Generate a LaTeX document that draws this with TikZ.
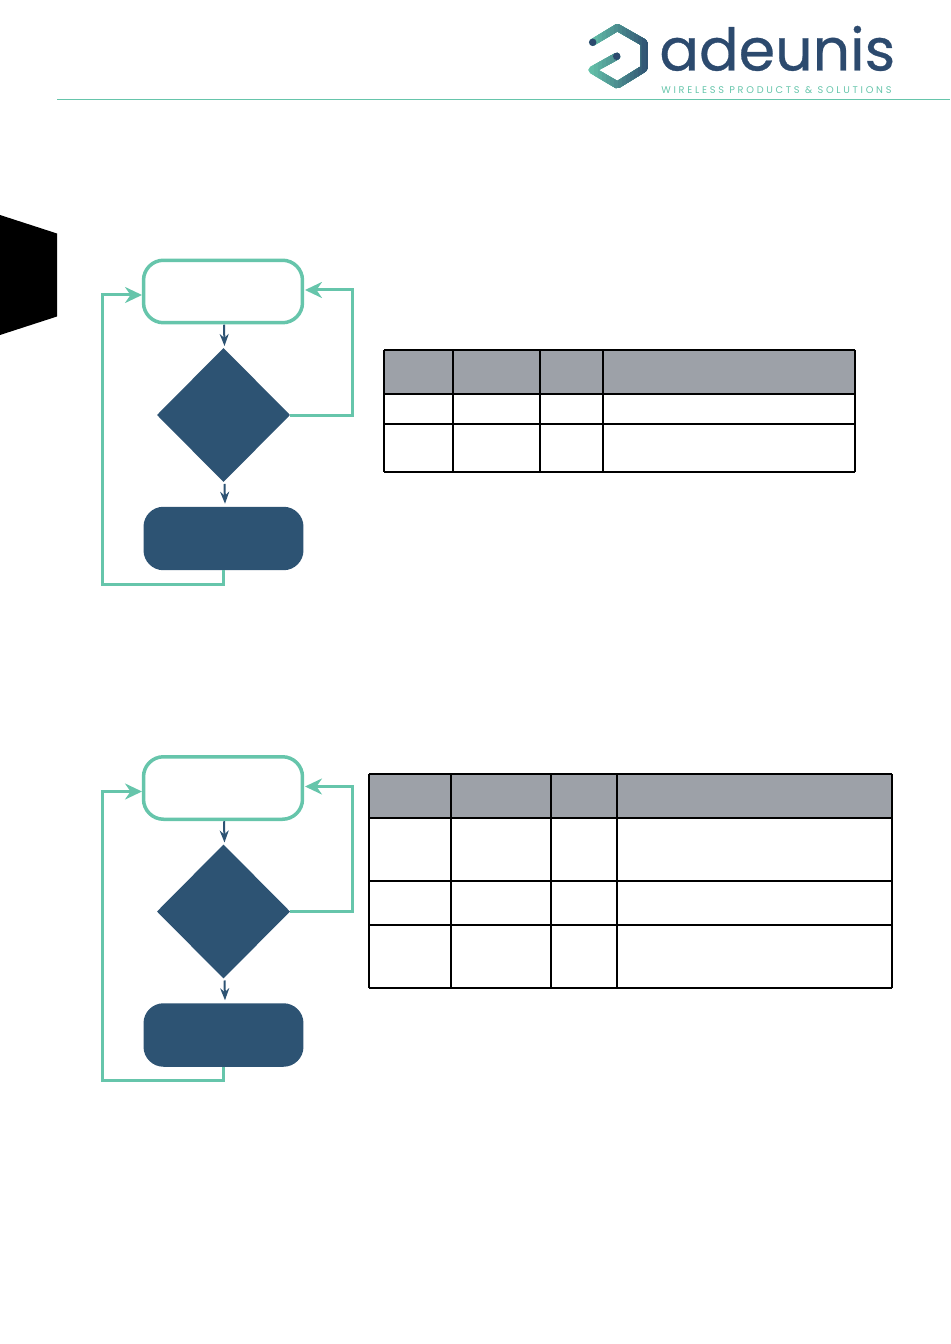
\documentclass[tikz,border=0pt]{standalone}
\usepackage{fontspec}
\usepackage{xcolor}
\usepackage{tikz}
\usetikzlibrary{arrows.meta,shapes.geometric}
\newfontfamily\logofont[FakeBold=0.5]{Poppins}
\newfontfamily\taglinefont[LetterSpace=28]{Poppins}
\definecolor{flowgreen}{HTML}{66C5AB}
\definecolor{flowblue}{HTML}{2D5373}
\definecolor{logoblue}{HTML}{2C4A6E}
\definecolor{headgray}{HTML}{9DA1A8}
\begin{document}
\begin{tikzpicture}[x=0.02cm, y=-0.02cm,
	waitbox/.style={draw=flowgreen, line width=0.07cm, fill=white, rounded corners=0.4cm, minimum width=3.18cm, minimum height=1.25cm, inner sep=0, outer sep=0},
	actbox/.style={fill=flowblue, rounded corners=0.4cm, minimum width=3.2cm, minimum height=1.27cm, inner sep=0, outer sep=0},
	decbox/.style={diamond, fill=flowblue, minimum width=2.66cm, minimum height=2.68cm, inner sep=0, outer sep=0},
	loopline/.style={draw=flowgreen, line width=0.06cm},
	looparrow/.style={loopline, -{Stealth[length=0.34cm, width=0.32cm]}},
	downarrow/.style={draw=flowblue, line width=0.04cm, -{Stealth[length=0.24cm, width=0.18cm]}},
	tableline/.style={draw=black, line width=0.042cm}]
	\useasboundingbox (0,0) rectangle (950,1344);

	% Header
	\draw[flowgreen, line width=0.02cm] (57,99.5) -- (950,99.5);
	\fill[black] (0,215) -- (57,233.5) -- (57,316.5) -- (0,335) -- cycle;

	% Logo hexagon, strips for the gradient
	\foreach \i in {0,...,16} {
		\pgfmathsetmacro{\mixval}{min(100,\i*6.25)}
		\begin{scope}
			\clip (586+\i*4,20) rectangle (654,95);
			\draw[color={logoblue!\mixval!flowgreen}, line width=0.14cm, line cap=round, line join=round]
				(592.7,42.3) -- (617.3,27.5) -- (644,42.7) -- (644,68.5) -- (617.3,85) -- (591.7,70) -- (616.7,56.3);
		\end{scope}
	}
	\fill[logoblue] (592.7,42.3) circle (0.075cm);
	\fill[logoblue] (616.7,56.3) circle (0.075cm);
	\node[anchor=base west, inner sep=0, text=logoblue, font=\logofont\fontsize{33.4}{34}\selectfont] (logoname) at (659,70.5) {adeunis};
	\node[anchor=base west, inner sep=0, text=flowgreen, font=\taglinefont\fontsize{5.55}{6}\selectfont] (logotag) at (661,94) {WIRELESS PRODUCTS \& SOLUTIONS};

	% Flow charts
	\foreach \f/\dy in {A/0, B/496.5} {
		\begin{scope}[yshift=-\dy*0.02cm]
			\node[waitbox] (wait\f) at (223,291.5) {};
			\node[decbox] (dec\f) at (223.5,415) {};
			\node[actbox] (act\f) at (223.5,538.5) {};
			\draw[downarrow] ([xshift=0.02cm,yshift=-0.04cm]wait\f.south) -- ([xshift=0.02cm,yshift=0.04cm]dec\f.north);
			\draw[downarrow] ([xshift=0.02cm,yshift=-0.04cm]dec\f.south) -- ([xshift=0.03cm,yshift=0.06cm]act\f.north);
			\coordinate (right\f) at (352,350);
			\coordinate (left\f) at (102,584);
			\draw[looparrow] (dec\f.east) -| (right\f) |- ([xshift=0.05cm,yshift=0.03cm]wait\f.east);
			\draw[looparrow] (act\f.south) |- (left\f) |- ([xshift=-0.03cm,yshift=-0.07cm]wait\f.west);
		\end{scope}
	}

	% Table 1
	\fill[headgray] (384,350) rectangle (855,394);
	\foreach \y in {350,394,424,472} {
		\draw[tableline] (384,\y) -- (855,\y);
	}
	\foreach \x in {384,453,540,603,855} {
		\draw[tableline] (\x,350) -- (\x,472);
	}

	% Table 2
	\fill[headgray] (369,774) rectangle (892,818);
	\foreach \y in {774,818,881,925,988} {
		\draw[tableline] (369,\y) -- (892,\y);
	}
	\foreach \x in {369,451,551,617,892} {
		\draw[tableline] (\x,774) -- (\x,988);
	}
\end{tikzpicture}
\end{document}
